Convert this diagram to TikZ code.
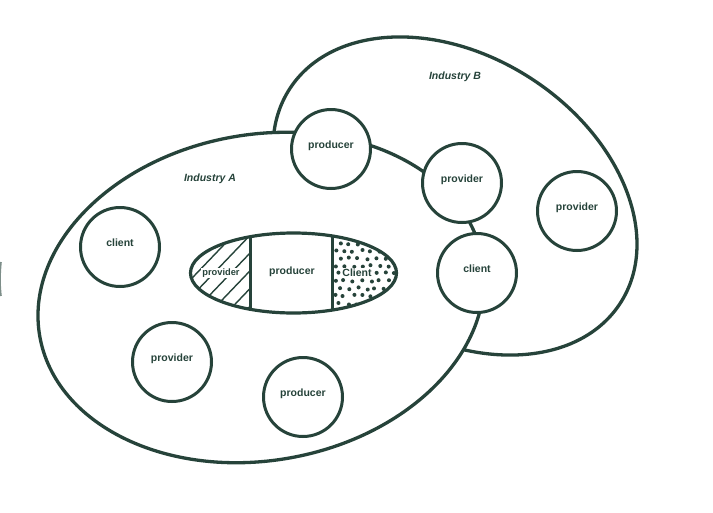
\documentclass[tikz,border=0pt]{standalone}
\usepackage{fontspec}
\setmainfont{Liberation Sans}
\definecolor{ink}{HTML}{26433A}
\begin{document}
\begin{tikzpicture}[x=1pt,y=-1pt,
  outline/.style={draw=ink,line width=3.3pt,fill=white},
  role/.style={circle,draw=ink,line width=3pt,fill=white,minimum size=79pt,inner sep=0pt,
    font=\fontsize{10.5}{12}\selectfont\bfseries,text=ink,text height=7.6pt,text depth=8.1pt},
  lab/.style={font=\fontsize{10.5}{12}\selectfont\bfseries\itshape,text=ink,inner sep=0pt},
  seg/.style={font=\fontsize{10.5}{12}\selectfont\bfseries,text=ink,inner sep=1pt},
  hatch/.style={draw=ink,line width=1.4pt},
  dot/.style={fill=ink}]
\useasboundingbox (0,0) rectangle (713,512);
% stray arc at the left edge
\draw[ink,line width=2pt,opacity=0.6] (0.8,262) .. controls (-0.5,275) and (-0.5,285) .. (0.8,296);
% Industry B
\coordinate (bc) at (455,196);
\draw[outline] (bc) ellipse [x radius=197, y radius=140, rotate=-33];
% Industry A
\coordinate (ac) at (261,297.5);
\draw[outline] (ac) ellipse [x radius=224.6, y radius=163, rotate=10];
\node[lab] (indA) at (210,179) {Industry A};
\node[lab] (indB) at (455,77) {Industry B};
% inner ellipse
\coordinate (ec) at (293.5,273);
\begin{scope}
  \clip (ec) ellipse [x radius=103, y radius=40];
  \begin{scope}
    \clip (185,228) rectangle (250,318);
    \foreach \i in {0,...,6} \draw[hatch] (150+\i*17,322) -- ++(90,-94);
  \end{scope}
  \begin{scope}
    \pgfmathsetseed{11}
    \foreach \r in {0,...,10} {
      \foreach \c in {0,...,7} {
        \pgfmathsetmacro{\dx}{335+\c*9+mod(\r,2)*4.5+rand*1.5}
        \pgfmathsetmacro{\dy}{236+\r*7.5+rand*1.2}
        \fill[dot] (\dx,\dy) circle (2pt);
      }
    }
  \end{scope}
  \draw[ink,line width=3pt] (250,228) -- (250,318) (332,228) -- (332,318);
\end{scope}
\node[seg,fill=white,font=\fontsize{9.3}{11}\selectfont\bfseries] (sprov) at (221,273) {provider};
\node[seg] (sprod) at (292,272) {producer};
\node[seg,fill=white] (scli) at (357,273) {Client};
\draw[ink,line width=3.2pt] (ec) ellipse [x radius=103, y radius=40];
% role circles
\node[role] (prodTop) at (331,149) {producer};
\node[role] (provMid) at (462,183) {provider};
\node[role] (cliRight) at (477,273) {client};
\node[role] (provRight) at (577,211) {provider};
\node[role] (cliLeft) at (120,247) {client};
\node[role] (provLeft) at (172,362) {provider};
\node[role] (prodBot) at (303,397) {producer};
\end{tikzpicture}
\end{document}
